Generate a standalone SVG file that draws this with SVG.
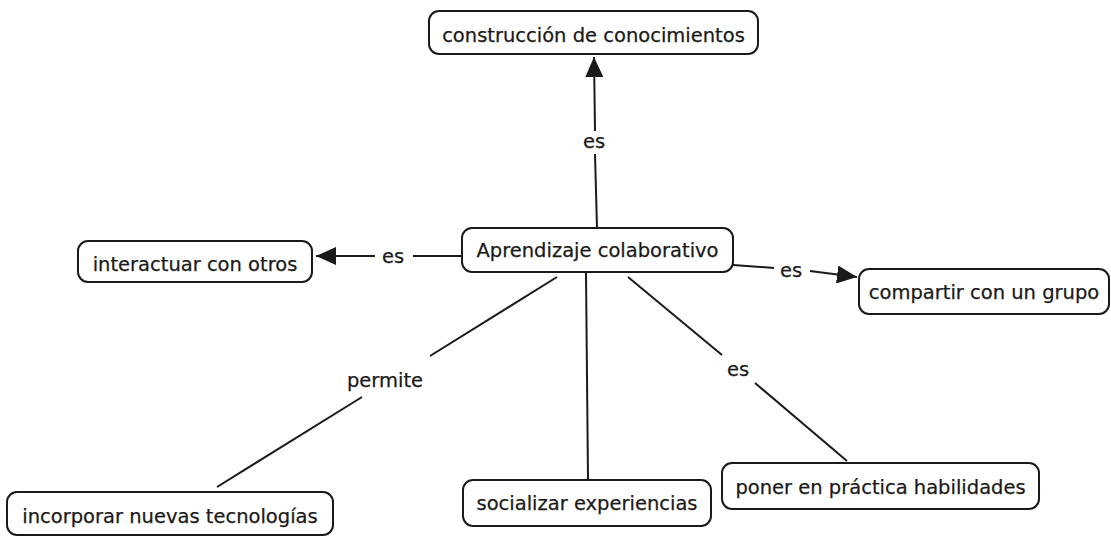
<svg xmlns="http://www.w3.org/2000/svg" width="1111" height="537" viewBox="0 0 1111 537">
  <style>
    .box { fill: #ffffff; stroke: #1a1a1a; stroke-width: 2; }
    .t { font-family: "DejaVu Sans", Verdana, sans-serif; font-size: 19.5px; fill: #1a1a1a; stroke: #1a1a1a; stroke-width: 0.25; text-anchor: middle; }
    .ln { fill: none; stroke: #1a1a1a; stroke-width: 2; }
  </style>
  <defs>
    <marker id="arrow" viewBox="0 0 20 18" refX="20" refY="9" markerWidth="20" markerHeight="18" markerUnits="userSpaceOnUse" orient="auto">
      <path d="M0,0 L20,9 L0,18 Z" fill="#1a1a1a"/>
    </marker>
  </defs>
  <rect width="1111" height="537" fill="#ffffff"/>

  <g id="connectors">
    <path class="ln" d="M597,228 L595,154"/>
    <path class="ln" d="M595,131 L594,57" marker-end="url(#arrow)"/>
    <text class="t" x="594" y="148">es</text>

    <path class="ln" d="M462,256 L413,256"/>
    <path class="ln" d="M375,256 L316,256" marker-end="url(#arrow)"/>
    <text class="t" x="393" y="263">es</text>

    <path class="ln" d="M733,265 L774,268"/>
    <path class="ln" d="M810,271 L857,277" marker-end="url(#arrow)"/>
    <text class="t" x="791" y="277">es</text>

    <path class="ln" d="M557,277 L430,356"/>
    <path class="ln" d="M362,397 L217,487"/>
    <text class="t" x="385" y="387">permite</text>

    <path class="ln" d="M586,273 L588,480"/>

    <path class="ln" d="M628,277 L722,355"/>
    <path class="ln" d="M755,383 L847,461"/>
    <text class="t" x="738" y="376">es</text>
  </g>

  <g id="node-construccion">
    <rect class="box" x="429" y="11" width="329" height="43" rx="10"/>
    <text class="t" x="593.5" y="41.5">construcción de conocimientos</text>
  </g>
  <g id="node-aprendizaje">
    <rect class="box" x="462" y="228" width="271" height="44" rx="10"/>
    <text class="t" x="597.5" y="257">Aprendizaje colaborativo</text>
  </g>
  <g id="node-interactuar">
    <rect class="box" x="78" y="241" width="234" height="41" rx="10"/>
    <text class="t" x="195" y="271">interactuar con otros</text>
  </g>
  <g id="node-compartir">
    <rect class="box" x="859" y="269" width="250" height="45" rx="10"/>
    <text class="t" x="984" y="299">compartir con un grupo</text>
  </g>
  <g id="node-incorporar">
    <rect class="box" x="7" y="492" width="326" height="43" rx="10"/>
    <text class="t" x="170" y="523">incorporar nuevas tecnologías</text>
  </g>
  <g id="node-socializar">
    <rect class="box" x="463" y="480" width="248" height="46" rx="10"/>
    <text class="t" x="587" y="510">socializar experiencias</text>
  </g>
  <g id="node-poner">
    <rect class="box" x="722" y="463" width="317" height="46" rx="10"/>
    <text class="t" x="880.5" y="494">poner en práctica habilidades</text>
  </g>
</svg>
